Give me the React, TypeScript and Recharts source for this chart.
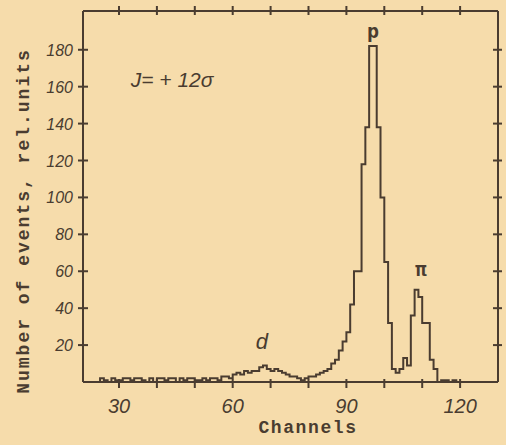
import { ComposedChart, Line, XAxis, YAxis, ReferenceDot } from 'recharts';

// spectrum, one value per channel, starting at firstChannel
const firstChannel = 24;
const counts = [
  0, 2, 1, 0, 2, 1, 1, 2, 2, 1, // 24-33
  2, 2, 1, 0, 2, 0, 2, 2, 1, 2, // 34-43
  2, 0, 2, 1, 2, 2, 1, 1, 2, 1, // 44-53
  2, 2, 1, 3, 3, 2, 4, 5, 4, 6, // 54-63
  5, 6, 6, 8, 9, 7, 6, 7, 6, 5, // 64-73
  4, 3, 3, 2, 1, 2, 3, 3, 4, 5, // 74-83
  6, 7, 10, 12, 17, 22, 27, 42, 60, 60, // 84-93
  118, 138, 182, 182, 138, 100, 65, 32, 7, 5, // 94-103
  7, 13, 9, 36, 50, 46, 32, 32, 12, 7, // 104-113
  0, 1, 1, 0, 1, 0, // 114-119
];

const xTicks = [30, 40, 50, 60, 70, 80, 90, 100, 110, 120];
const xLabels = [30, 60, 90, 120];
const yTicks = [20, 40, 60, 80, 100, 120, 140, 160, 180];

const ink = '#4a3c30';
const paper = '#f6dcab';

const data = counts.map((c, i) => ({ ch: firstChannel + i, count: c }));

const BottomTick = ({ x, y, payload }: any) => (
  <g>
    <line x1={x} x2={x} y1={y - 3} y2={y + 6} stroke={ink} strokeWidth={2} />
    {xLabels.includes(payload.value) && (
      <text x={x} y={y + 31} textAnchor="middle" fill={ink} fontSize={20} fontStyle="italic" fontFamily="Liberation Sans">
        {payload.value}
      </text>
    )}
  </g>
);

const TopTick = ({ x, y }: any) => (
  <line x1={x} x2={x} y1={y - 5} y2={y + 4} stroke={ink} strokeWidth={2} />
);

const LeftTick = ({ x, y, payload }: any) => (
  <g>
    <line x1={x - 5} x2={x + 5} y1={y} y2={y} stroke={ink} strokeWidth={2} />
    <text x={x - 10} y={y + 6} textAnchor="end" fill={ink} fontSize={16} fontStyle="italic" fontFamily="Liberation Sans">
      {payload.value}
    </text>
  </g>
);

const RightTick = ({ x, y }: any) => (
  <line x1={x - 5} x2={x + 4} y1={y} y2={y} stroke={ink} strokeWidth={2} />
);

const note = (value: string, size: number, family: string, style = 'italic', weight = 'normal') => ({
  value,
  position: 'center' as const,
  fill: ink,
  fontSize: size,
  fontFamily: family,
  fontStyle: style,
  fontWeight: weight,
});

const titleFont = { fill: ink, fontSize: 18, fontWeight: 'bold', fontFamily: 'Liberation Mono' };

export default function App() {
  return (
    <div style={{ position: 'absolute', left: 0, top: 0, width: 506, height: 445, background: paper }}>
      <ComposedChart width={506} height={445} data={data} margin={{ top: 10, right: 7, bottom: 0, left: 0 }}>
        <XAxis
          dataKey="ch"
          type="number"
          domain={[20.5, 130]}
          ticks={xTicks}
          tickSize={0}
          tickMargin={0}
          height={63}
          axisLine={{ stroke: ink, strokeWidth: 2 }}
          tick={<BottomTick />}
          label={{
            content: () => (
              <text x={308} y={433} textAnchor="middle" letterSpacing={1.6} {...titleFont}>
                Channels
              </text>
            ),
          }}
        />
        <XAxis
          xAxisId="top"
          orientation="top"
          dataKey="ch"
          type="number"
          domain={[20.5, 130]}
          ticks={xTicks}
          tickSize={0}
          tickMargin={0}
          height={1}
          axisLine={{ stroke: ink, strokeWidth: 2 }}
          tick={<TopTick />}
        />
        <YAxis
          type="number"
          domain={[0, 201]}
          ticks={yTicks}
          tickSize={0}
          tickMargin={0}
          width={83}
          axisLine={{ stroke: ink, strokeWidth: 2 }}
          tick={<LeftTick />}
          label={{
            content: () => (
              <text x={29} y={221} textAnchor="middle" letterSpacing={2} transform="rotate(-90 29 221)" {...titleFont}>
                Number of events, rel.units
              </text>
            ),
          }}
        />
        <YAxis
          yAxisId="right"
          orientation="right"
          type="number"
          domain={[0, 201]}
          ticks={yTicks}
          tickSize={0}
          tickMargin={0}
          width={1}
          axisLine={{ stroke: ink, strokeWidth: 2 }}
          tick={<RightTick />}
        />
        <Line
          dataKey="count"
          type="stepAfter"
          stroke={ink}
          strokeWidth={2}
          dot={false}
          isAnimationActive={false}
        />
        <Line
          xAxisId="top"
          yAxisId="right"
          dataKey="count"
          type="stepAfter"
          stroke="none"
          dot={false}
          legendType="none"
          isAnimationActive={false}
        />
        <ReferenceDot x={44} y={164} r={0} fill="none" stroke="none" label={note('J= + 12σ', 21, 'Liberation Sans')} />
        <ReferenceDot x={97} y={190} r={0} fill="none" stroke="none" label={note('p', 20, 'DejaVu Sans Mono', 'normal', 'bold')} />
        <ReferenceDot x={109.7} y={61} r={0} fill="none" stroke="none" label={note('π', 19, 'DejaVu Sans Mono', 'normal', 'bold')} />
        <ReferenceDot x={67.7} y={22} r={0} fill="none" stroke="none" label={note('d', 22, 'Liberation Sans')} />
      </ComposedChart>
    </div>
  );
}
